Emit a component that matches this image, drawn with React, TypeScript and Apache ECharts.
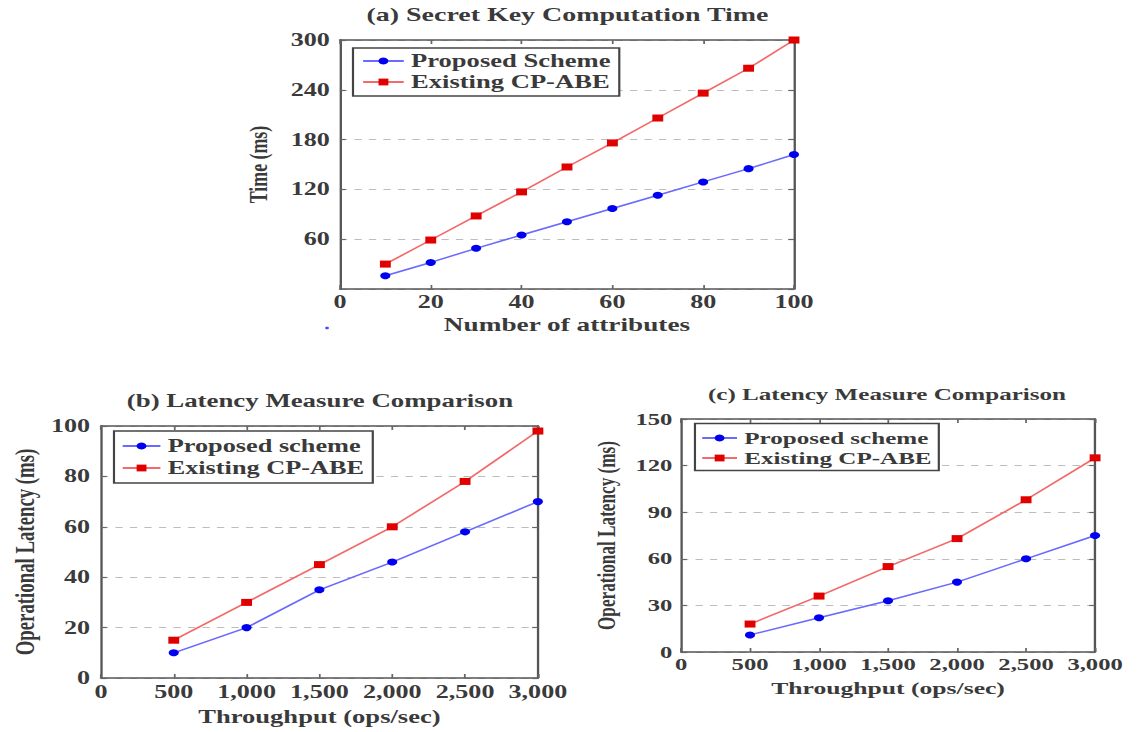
import React, { useEffect, useRef } from "react";
import * as echarts from "echarts";

// ---- data ----
const attributes = [10, 20, 30, 40, 50, 60, 70, 80, 90, 100];
const proposedA = [16, 32, 49, 65, 81, 97, 113, 129, 145, 162];
const existingA = [30, 59, 88, 117, 147, 176, 206, 236, 266, 300];

const throughput = [500, 1000, 1500, 2000, 2500, 3000];
const proposedB = [10, 20, 35, 46, 58, 70];
const existingB = [15, 30, 45, 60, 78, 98];
const proposedC = [11, 22, 33, 45, 60, 75];
const existingC = [18, 36, 55, 73, 98, 125];

const attrTicks = [0, 20, 40, 60, 80, 100];
const timeTicks = [0, 60, 120, 180, 240, 300];
const throughputTicks = [0, 500, 1000, 1500, 2000, 2500, 3000];
const latencyTicksB = [0, 20, 40, 60, 80, 100];
const latencyTicksC = [0, 30, 60, 90, 120, 150];

// ---- layout (the reference is stretched horizontally) ----
const PAGE_W = 1137;
const W = 784;
const H = 732;
const FONT = '"Liberation Serif", "Times New Roman", serif';
const WEIGHT = "bold";
const TEXT = "#3a3a3a";
const BLUE = "#0000f0";
const BLUE_LINE = "#6a6aff";
const RED = "#e00000";
const RED_LINE = "#f26a6a";
const K = 0.94; // size compensation for the wider bold face

const fmtThousands = (v: number) =>
  String(v).replace(/\B(?=(\d{3})+(?!\d))/g, ",");

const zip = (xs: number[], ys: number[]) => xs.map((x, i) => [x, ys[i]]);

interface PanelCfg {
  grid: { left: number; top: number; width: number; height: number };
  title: string;
  titleX: number;
  titleTop: number;
  titleSize: number;
  xTicks: number[];
  yTicks: number[];
  xName: string;
  yName: string;
  xNameGap: number;
  yNameGap: number;
  xNameSize: number;
  yNameSize: number;
  tickSize: number;
  xLabelMargin: number;
  yLabelMargin: number;
  showYMin: boolean;
  xFormatter?: (v: number) => string;
  legend: {
    left: number;
    top: number;
    itemWidth: number;
    itemGap: number;
    padding: number[];
    fontSize: number;
  };
  names: [string, string];
  xs: number[];
  blue: number[];
  red: number[];
}

const panels: PanelCfg[] = [
  {
    grid: { left: 234.4, top: 40, width: 313.1, height: 249 },
    title: "(a) Secret Key Computation Time",
    titleX: 391.3,
    titleTop: 5,
    titleSize: 20.5,
    xTicks: attrTicks,
    yTicks: timeTicks,
    xName: "Number of attributes",
    yName: "Time (ms)",
    xNameGap: 26,
    yNameGap: 47,
    xNameSize: 20,
    yNameSize: 19,
    tickSize: 18,
    xLabelMargin: 4,
    yLabelMargin: 7,
    showYMin: false,
    legend: { left: 243.4, top: 48, itemWidth: 28, itemGap: 3, padding: [4, 6, 5, 6], fontSize: 19.5 },
    names: ["Proposed Scheme", "Existing CP-ABE"],
    xs: attributes,
    blue: proposedA,
    red: existingA,
  },
  {
    grid: { left: 69.6, top: 426, width: 301.3, height: 252 },
    title: "(b) Latency Measure Comparison",
    titleX: 220.6,
    titleTop: 391,
    titleSize: 19.7,
    xTicks: throughputTicks,
    yTicks: latencyTicksB,
    xName: "Throughput (ops/sec)",
    yName: "Operational Latency (ms)",
    xNameGap: 30,
    yNameGap: 43,
    xNameSize: 19.5,
    yNameSize: 20,
    tickSize: 18,
    xLabelMargin: 5,
    yLabelMargin: 7.5,
    showYMin: true,
    xFormatter: fmtThousands,
    legend: { left: 78.6, top: 431, itemWidth: 26, itemGap: 4, padding: [6, 6, 6, 5], fontSize: 19.3 },
    names: ["Proposed scheme", "Existing CP-ABE"],
    xs: throughput,
    blue: proposedB,
    red: existingB,
  },
  {
    grid: { left: 469.6, top: 419, width: 285.5, height: 233 },
    title: "(c) Latency Measure Comparison",
    titleX: 611.6,
    titleTop: 385.5,
    titleSize: 18.4,
    xTicks: throughputTicks,
    yTicks: latencyTicksC,
    xName: "Throughput (ops/sec)",
    yName: "Operational Latency (ms)",
    xNameGap: 27,
    yNameGap: 42.7,
    xNameSize: 18.8,
    yNameSize: 18.3,
    tickSize: 17,
    xLabelMargin: 4,
    yLabelMargin: 6,
    showYMin: true,
    xFormatter: fmtThousands,
    legend: { left: 479.2, top: 423.5, itemWidth: 24, itemGap: 3, padding: [6, 5, 4, 4], fontSize: 18.4 },
    names: ["Proposed scheme", "Existing CP-ABE"],
    xs: throughput,
    blue: proposedC,
    red: existingC,
  },
];

const axisLine = { show: true, onZero: false, lineStyle: { color: "#555", width: 1.6 } };
const axisTick = { show: true, inside: true, length: 4, lineStyle: { color: "#666", width: 1.2 } };

function buildOption() {
  const grids: any[] = [];
  const xAxes: any[] = [];
  const yAxes: any[] = [];
  const series: any[] = [];
  const titles: any[] = [];
  const legends: any[] = [];

  panels.forEach((p, i) => {
    grids.push({ ...p.grid, containLabel: false });
    const xr = {
      type: "value",
      gridIndex: i,
      min: p.xTicks[0],
      max: p.xTicks[p.xTicks.length - 1],
      interval: p.xTicks[1] - p.xTicks[0],
    };
    const yr = {
      type: "value",
      gridIndex: i,
      min: p.yTicks[0],
      max: p.yTicks[p.yTicks.length - 1],
      interval: p.yTicks[1] - p.yTicks[0],
    };
    const labelStyle = { fontFamily: FONT, fontWeight: WEIGHT, fontSize: p.tickSize, color: TEXT };
    xAxes.push({
      ...xr,
      position: "bottom",
      axisLine,
      axisTick,
      splitLine: { show: false },
      axisLabel: {
        ...labelStyle,
        margin: p.xLabelMargin,
        formatter: p.xFormatter ? (v: number) => p.xFormatter!(v) : undefined,
      },
      name: p.xName,
      nameLocation: "middle",
      nameGap: p.xNameGap,
      nameTextStyle: { fontFamily: FONT, fontWeight: WEIGHT, fontSize: p.xNameSize * K, color: TEXT },
    });
    xAxes.push({
      ...xr,
      position: "top",
      axisLine,
      axisTick,
      splitLine: { show: false },
      axisLabel: { show: false },
    });
    yAxes.push({
      ...yr,
      position: "left",
      axisLine,
      axisTick,
      splitLine: { show: true, lineStyle: { type: [5, 5], color: "#bdbdbd", width: 1.2 } },
      axisLabel: { ...labelStyle, margin: p.yLabelMargin, showMinLabel: p.showYMin },
      name: p.yName,
      nameLocation: "middle",
      nameGap: p.yNameGap,
      nameTextStyle: { fontFamily: FONT, fontWeight: WEIGHT, fontSize: p.yNameSize * K, color: TEXT },
    });
    yAxes.push({
      ...yr,
      position: "right",
      axisLine,
      axisTick,
      splitLine: { show: false },
      axisLabel: { show: false },
    });

    series.push({
      type: "line",
      name: p.names[0],
      xAxisIndex: i * 2,
      yAxisIndex: i * 2,
      data: zip(p.xs, p.blue),
      symbol: "circle",
      symbolSize: 7,
      itemStyle: { color: BLUE },
      lineStyle: { color: BLUE_LINE, width: 1.5 },
      z: 3,
    });
    series.push({
      type: "line",
      name: p.names[1],
      xAxisIndex: i * 2,
      yAxisIndex: i * 2,
      data: zip(p.xs, p.red),
      symbol: "rect",
      symbolSize: [7.5, 7],
      itemStyle: { color: RED },
      lineStyle: { color: RED_LINE, width: 1.5 },
      z: 4,
    });

    titles.push({
      text: p.title,
      left: p.titleX,
      top: p.titleTop,
      textAlign: "center",
      padding: 0,
      textStyle: { fontFamily: FONT, fontSize: p.titleSize * K, fontWeight: WEIGHT, color: TEXT },
    });

    legends.push({
      orient: "vertical",
      left: p.legend.left,
      top: p.legend.top,
      itemWidth: p.legend.itemWidth,
      itemHeight: 8.5,
      itemGap: p.legend.itemGap,
      padding: p.legend.padding,
      borderColor: "#444",
      borderWidth: 1.5,
      borderRadius: 0,
      backgroundColor: "#fff",
      selectedMode: false,
      data: p.names,
      textStyle: { fontFamily: FONT, fontWeight: WEIGHT, fontSize: p.legend.fontSize * K, color: TEXT },
    });
  });

  return {
    animation: false,
    backgroundColor: "#fff",
    title: titles,
    legend: legends,
    grid: grids,
    xAxis: xAxes,
    yAxis: yAxes,
    series,
    graphic: [
      {
        type: "circle",
        shape: { cx: 225.5, cy: 328, r: 1.3 },
        style: { fill: "#4a4aff" },
      },
    ],
  };
}

export default function App() {
  const ref = useRef<HTMLDivElement>(null);
  useEffect(() => {
    document.body.style.margin = "0";
    const chart = echarts.init(ref.current!, undefined, { renderer: "svg" });
    chart.setOption(buildOption() as any);
    return () => chart.dispose();
  }, []);
  return (
    <div style={{ width: PAGE_W, height: H, overflow: "hidden", background: "#fff" }}>
      <div
        ref={ref}
        style={{
          width: W,
          height: H,
          transform: `scaleX(${PAGE_W / W})`,
          transformOrigin: "0 0",
        }}
      />
    </div>
  );
}
